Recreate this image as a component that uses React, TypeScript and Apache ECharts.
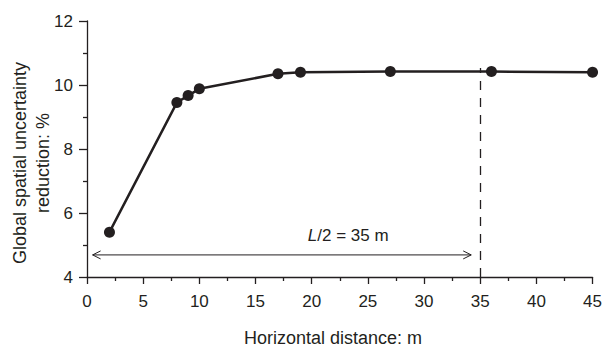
import React, { useEffect, useRef } from "react";
import * as echarts from "echarts";

const xValues = [2, 8, 9, 10, 17, 19, 27, 36, 45];
const yValues = [5.4, 9.45, 9.67, 9.88, 10.35, 10.4, 10.42, 10.42, 10.4];
const xTicks = { min: 0, max: 45, interval: 5 };
const yTicks = { min: 4, max: 12, interval: 2 };
const halfLength = 35;
const dashedTop = 10.53;
const arrowSpan = [[0.5, 34.2, 4.69]];
const arrowLabel = [[23.25, 5.31]];

const INK = "#231f20";
const FONT = "'Liberation Sans', Arial, Helvetica, sans-serif";

export default function App() {
  const ref = useRef<HTMLDivElement>(null);
  useEffect(() => {
    if (!ref.current) return;
    const chart = echarts.init(ref.current, null, { renderer: "svg" });
    const data = xValues.map((x, i) => [x, yValues[i]]);
    chart.setOption({
      animation: false,
      backgroundColor: "#ffffff",
      grid: { left: 87, right: 11, top: 21, bottom: 75, containLabel: false },
      xAxis: {
        type: "value",
        min: xTicks.min,
        max: xTicks.max,
        interval: xTicks.interval,
        axisLine: { show: true, lineStyle: { color: INK, width: 1.3 } },
        axisTick: { show: true, length: 7, lineStyle: { color: INK, width: 1.3 } },
        minorTick: { show: true, splitNumber: 2, length: 4, lineStyle: { color: INK, width: 1.3 } },
        splitLine: { show: false },
        axisLabel: { color: INK, fontSize: 17, fontFamily: FONT, margin: 16, showMaxLabel: true },
      },
      yAxis: {
        type: "value",
        min: yTicks.min,
        max: yTicks.max,
        interval: yTicks.interval,
        axisLine: { show: true, lineStyle: { color: INK, width: 1.3 } },
        axisTick: { show: true, length: 8, lineStyle: { color: INK, width: 1.3 } },
        minorTick: { show: true, splitNumber: 2, length: 4, lineStyle: { color: INK, width: 1.3 } },
        splitLine: { show: false },
        axisLabel: { color: INK, fontSize: 17, fontFamily: FONT, margin: 14 },
      },
      graphic: [
        {
          type: "text",
          x: 31,
          y: 163,
          rotation: Math.PI / 2,
          style: {
            text: "Global spatial uncertainty\nreduction: %",
            fill: INK,
            font: `18px ${FONT}`,
            align: "center",
            verticalAlign: "middle",
            lineHeight: 23,
          },
        },
        {
          type: "text",
          x: 333,
          y: 338,
          style: {
            text: "Horizontal distance: m",
            fill: INK,
            font: `18px ${FONT}`,
            align: "center",
            verticalAlign: "middle",
          },
        },
      ],
      series: [
        {
          type: "line",
          data,
          symbol: "circle",
          symbolSize: 11,
          lineStyle: { color: INK, width: 2.5 },
          itemStyle: { color: INK },
          z: 3,
          markLine: {
            silent: true,
            symbol: ["none", "none"],
            label: { show: false },
            lineStyle: { color: INK, width: 1.3, type: [9, 8] },
            data: [[{ coord: [halfLength, yTicks.min] }, { coord: [halfLength, dashedTop] }]],
          },
        },
        {
          type: "custom",
          data: arrowSpan,
          silent: true,
          renderItem: (params: any, api: any) => {
            const p0 = api.coord([api.value(0), api.value(2)]);
            const p1 = api.coord([api.value(1), api.value(2)]);
            const st = { stroke: INK, lineWidth: 1, fill: "none" };
            return {
              type: "group",
              children: [
                { type: "line", shape: { x1: p0[0], y1: p0[1], x2: p1[0], y2: p1[1] }, style: st },
                {
                  type: "polyline",
                  shape: { points: [[p0[0] + 8, p0[1] - 4], [p0[0], p0[1]], [p0[0] + 8, p0[1] + 4]] },
                  style: st,
                },
                {
                  type: "polyline",
                  shape: { points: [[p1[0] - 8, p1[1] - 4], [p1[0], p1[1]], [p1[0] - 8, p1[1] + 4]] },
                  style: st,
                },
              ],
            };
          },
        },
        {
          type: "custom",
          data: arrowLabel,
          silent: true,
          renderItem: (params: any, api: any) => {
            const p = api.coord([api.value(0), api.value(1)]);
            return {
              type: "text",
              x: p[0],
              y: p[1],
              style: {
                text: "{i|L}/2 = 35 m",
                fill: INK,
                font: `17px ${FONT}`,
                align: "center",
                verticalAlign: "middle",
                rich: { i: { fontStyle: "italic", fontSize: 17, fontFamily: FONT, fill: INK } },
              },
            };
          },
        },
      ],
    });
    return () => chart.dispose();
  }, []);
  return (
    <div
      ref={ref}
      style={{ position: "fixed", left: 0, top: 0, width: 605, height: 352 }}
    />
  );
}
